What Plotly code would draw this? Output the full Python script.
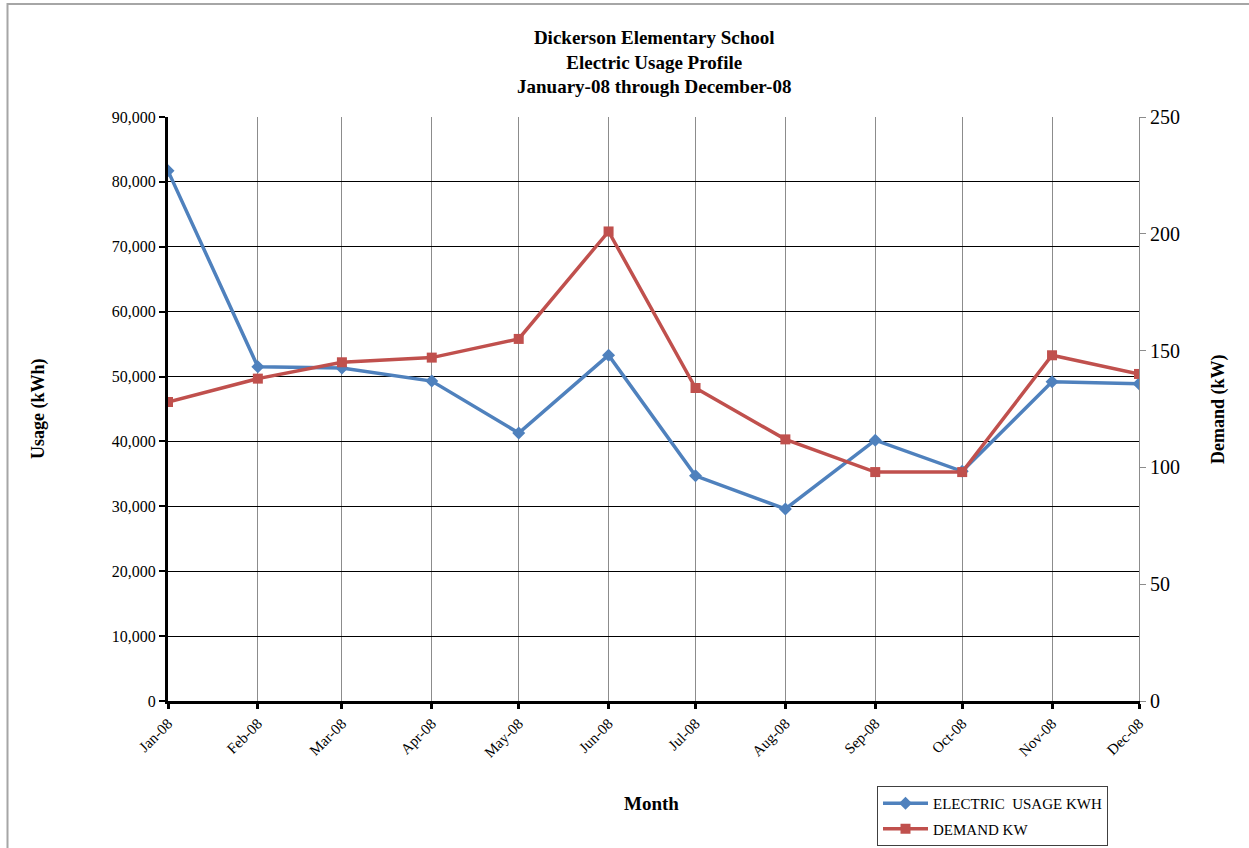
import plotly.graph_objects as go

months = ["2008-01-01", "2008-02-01", "2008-03-01", "2008-04-01", "2008-05-01", "2008-06-01",
          "2008-07-01", "2008-08-01", "2008-09-01", "2008-10-01", "2008-11-01", "2008-12-01"]
month_labels = ["Jan-08", "Feb-08", "Mar-08", "Apr-08", "May-08", "Jun-08",
                "Jul-08", "Aug-08", "Sep-08", "Oct-08", "Nov-08", "Dec-08"]
usage_kwh = [81700, 51500, 51300, 49300, 41300, 53300, 34700, 29600, 40200, 35400, 49200, 48900]
demand_kw = [128, 138, 145, 147, 155, 201, 134, 112, 98, 98, 148, 140]
usage_ticks = list(range(0, 90001, 10000))
demand_ticks = list(range(0, 251, 50))

BLUE = "#4F81BD"
RED = "#C0504D"
FONT = "Liberation Serif"

fig = go.Figure()
fig.add_trace(go.Scatter(x=months, y=usage_kwh, name="ELECTRIC  USAGE KWH", mode="lines+markers",
                         legendgroup="a",
                         line=dict(color=BLUE, width=3.5),
                         marker=dict(symbol="diamond", size=10, color=BLUE)))
fig.add_trace(go.Scatter(x=months, y=demand_kw, name="DEMAND KW", mode="lines+markers", yaxis="y2",
                         legendgroup="b",
                         line=dict(color=RED, width=3.5),
                         marker=dict(symbol="square", size=10, color=RED)))

L, R, T, B = 168, 110, 117, 147
W, H = 1249, 848
pw, ph = W - L - R, H - T - B

def px(x):
    return (x - L) / pw

def py(y):
    return (H - B - y) / ph

def ann(text, x, y, size, angle=0):
    return dict(text=text, x=px(x), y=py(y), xref="paper", yref="paper", showarrow=False,
                xanchor="center", yanchor="middle", textangle=angle,
                font=dict(family=FONT, size=size, color="black"), align="center")

fig.update_layout(
    width=W, height=H,
    margin=dict(l=L, r=R, t=T, b=B, autoexpand=False),
    paper_bgcolor="white", plot_bgcolor="white",
    font=dict(family=FONT, color="black", size=15),
    showlegend=True,
    legend=dict(x=px(877), y=py(786), xanchor="left", yanchor="top",
                bordercolor="#404040", borderwidth=1, bgcolor="white",
                font=dict(family=FONT, size=15), tracegroupgap=3,
                itemwidth=45),
    xaxis=dict(type="date", range=[months[0], months[-1]],
               tickvals=months, ticktext=month_labels, tickangle=-45,
               showgrid=True, gridcolor="#8c8c8c", gridwidth=1,
               showline=True, linecolor="black", linewidth=3,
               ticks="outside", ticklen=5, tickwidth=3, tickcolor="black",
               tickfont=dict(family=FONT, size=15), zeroline=False, automargin=False),
    yaxis=dict(range=[0, 90000], tickvals=usage_ticks, tickformat=",d",
               showgrid=True, gridcolor="black", gridwidth=1,
               showline=True, linecolor="black", linewidth=3,
               ticks="outside", ticklen=6, tickwidth=2, tickcolor="black",
               tickfont=dict(family=FONT, size=16), zeroline=False, automargin=False),
    yaxis2=dict(range=[0, 250], tickvals=demand_ticks, overlaying="y", side="right",
                showgrid=False, showline=True, linecolor="#8c8c8c", linewidth=1,
                ticks="outside", ticklen=6, tickcolor="#8c8c8c",
                tickfont=dict(family=FONT, size=20), zeroline=False, automargin=False),
    shapes=[dict(type="rect", xref="paper", yref="paper",
                 x0=px(7.5), x1=px(1260), y0=py(4), y1=py(900),
                 line=dict(color="#a6a6a6", width=2), fillcolor="rgba(0,0,0,0)", layer="below")],
    annotations=[
        ann("<b>Dickerson Elementary School<br>Electric Usage Profile<br>January-08 through December-08</b>",
            654, 62, 19),
        ann("<b>Usage (kWh)</b>", 38, 409, 18, -90),
        ann("<b>Demand (kW)</b>", 1218, 409, 18, -90),
        ann("<b>Month</b>", 651, 803, 19),
    ],
)

fig.write_html("out.html")
